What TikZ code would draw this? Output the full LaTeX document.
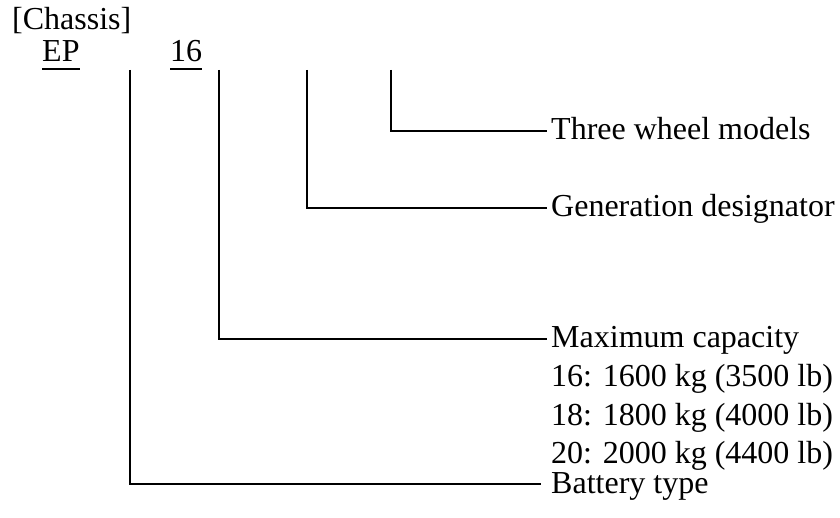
\documentclass[tikz,border=0pt]{standalone}
\usepackage{fontspec}
\setmainfont{Liberation Serif}
\usetikzlibrary{calc}
\begin{document}
\begin{tikzpicture}[x=1pt,y=-1pt,
  font=\fontsize{32}{38}\selectfont,
  lbl/.style={anchor=base west, inner sep=0pt},
  lead/.style={line width=2pt},
  uline/.style={line width=1.5pt}]
\useasboundingbox (0,0) rectangle (840,518);
% codes
\node[lbl] (chassis) at (12,30) {[Chassis]};
\node[lbl] (ep) at (42,62) {EP};
\node[lbl] (cap) at (170,62) {16};
\draw[uline] ($(ep.base west)+(0,7)$) -- ($(ep.base east)+(0,7)$);
\draw[uline] ($(cap.base west)+(0,7)$) -- ($(cap.base east)+(0,7)$);
% leader tops
\coordinate (t1) at (130,70);
\coordinate (t2) at (219,70);
\coordinate (t3) at (307,70);
\coordinate (t4) at (391,70);
% labels
\node[lbl] (three) at (551,140) {Three wheel models};
\node[lbl] (gen) at (551,217) {Generation designator};
\node[lbl] (max) at (551,348) {Maximum capacity};
\node[lbl] (c16) at (551,386) {16: 1600 kg (3500 lb)};
\node[lbl] (c18) at (551,425) {18: 1800 kg (4000 lb)};
\node[lbl] (c20) at (551,463) {20: 2000 kg (4400 lb)};
\node[lbl] (bat) at (551,493) {Battery type};
% leaders
\draw[lead] (t4) |- ($(three.base west)+(-4,-9)$);
\draw[lead] (t3) |- ($(gen.base west)+(-4,-9)$);
\draw[lead] (t2) |- ($(max.base west)+(-4,-9)$);
\draw[lead] (t1) |- ($(bat.base west)+(-10,-9)$);
\end{tikzpicture}
\end{document}
